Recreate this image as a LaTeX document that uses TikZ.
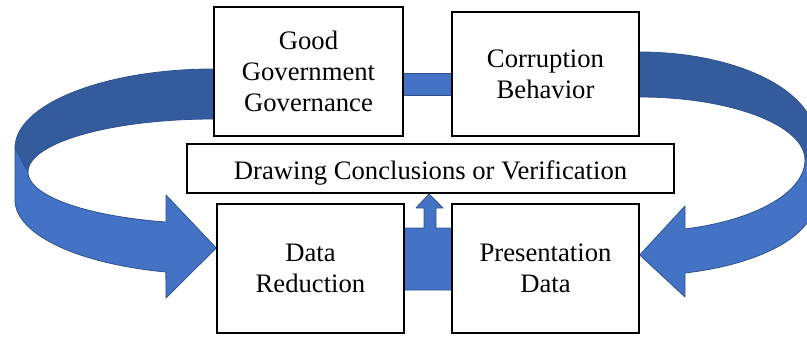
\documentclass[tikz,border=0pt]{standalone}
\usepackage{fontspec}
\setmainfont{Liberation Serif}
\pgfdeclarelayer{bg}
\pgfsetlayers{bg,main}
\definecolor{arrowlight}{RGB}{68,114,196}
\definecolor{arrowdark}{RGB}{52,91,156}
\definecolor{arrowedge}{RGB}{47,82,143}
\tikzset{
  box/.style={draw=black, fill=white, line width=1.1pt, rectangle, inner sep=0pt, align=center,
    font=\fontsize{20}{23}\selectfont},
  lightpart/.style={fill=arrowlight, draw=arrowedge, line width=0.6pt, line join=round},
  darkpart/.style={fill=arrowdark, draw=arrowedge, line width=0.6pt, line join=round}
}
\begin{document}
\begin{tikzpicture}[x=0.75pt, y=-0.75pt]
\useasboundingbox (0,0) rectangle (807,336);
\clip (0,0) rectangle (807,336);

% boxes
\node[box, minimum width=141.75pt, minimum height=96.75pt] (gg) at (308.5,71.5) {Good\\Government\\Governance};
\node[box, minimum width=140.25pt, minimum height=93pt] (cb) at (545.5,74) {Corruption\\Behavior};
\node[box, minimum width=365.25pt, minimum height=36.75pt] (dc) at (430.5,168.5) {\raisebox{-8.5pt}[0pt][0pt]{Drawing Conclusions or Verification}};
\node[box, minimum width=140.25pt, minimum height=96.75pt] (dr) at (310.5,268.5) {Data\\Reduction};
\node[box, minimum width=140.25pt, minimum height=96.75pt] (pd) at (545.5,268.5) {Presentation\\Data};

\begin{pgfonlayer}{bg}
% top connector between the two upper boxes
\path[lightpart] (gg.east |- 0,73) rectangle (cb.west |- 0,95);

% bottom connector with up arrow to the conclusions box
\path[lightpart] (dr.east |- 0,290) -- (dr.east |- 0,228) -- (424,228) -- (424,208) -- (416,208)
  -- (429,194) -- (443,208) -- (436,208) -- (436,228) -- (pd.west |- 0,228) -- (pd.west |- 0,290) -- cycle;

% left curved arrow: from Good Government Governance to Data Reduction
\path[darkpart] (gg.west |- 0,69) .. controls (104.1,69) and (15,104.4) .. (15,148)
  -- (28,172) .. controls (28,142.7) and (111.3,119) .. (gg.west |- 0,119) -- cycle;
\path[lightpart] (15,148) -- (15,200)
  -- plot[domain=180:104, samples=40, variable=\t] ({214+199*cos(\t)},{200+74.2*sin(\t)})
  -- (166,298) -- (dr.west |- 0,248) -- (166,195) -- (166,222)
  -- plot[domain=105:180, samples=40, variable=\t] ({214+186*cos(\t)},{172+51.8*sin(\t)})
  -- cycle;

% right curved arrow: from Corruption Behavior to Presentation Data
\path[darkpart] (cb.east |- 0,52) .. controls (736.2,52) and (815,90.6) .. (815,138.3)
  -- (805,160) .. controls (805,125.2) and (730.7,97) .. (cb.east |- 0,97) -- cycle;
\path[lightpart] (815,138.3) -- (815,200.6)
  -- plot[domain=0:74.85, samples=40, variable=\t] ({639+176*cos(\t)},{200.6+75*sin(\t)})
  -- (685,297) -- (pd.east |- 0,255) -- (685,206) -- (685,229)
  -- plot[domain=73.9:0, samples=40, variable=\t] ({639+166*cos(\t)},{160+71.8*sin(\t)})
  -- cycle;
\end{pgfonlayer}
\end{tikzpicture}
\end{document}
